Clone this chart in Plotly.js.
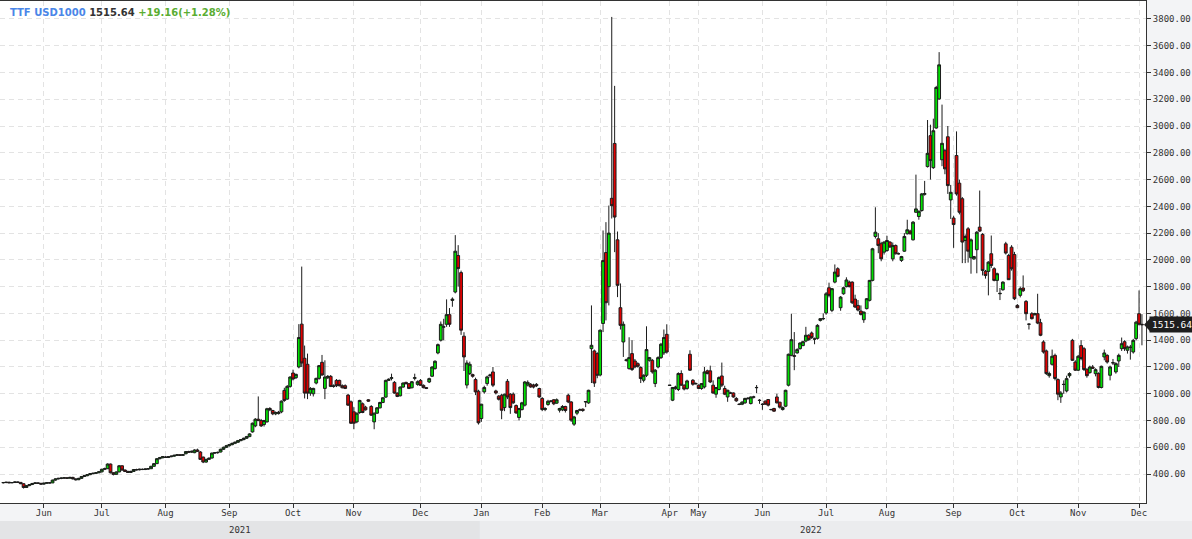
<!DOCTYPE html>
<html>
<head>
<meta charset="utf-8">
<script src="https://cdn.plot.ly/plotly-3.0.1.min.js"></script>
<style>
html,body{margin:0;padding:0;background:#f3f4f6;}
#chart{width:1192px;height:539px;}
</style>
</head>
<body>
<div id="chart"></div>
<script>
// Month labels along the x axis and the number of trading-day candles in each month
const monthLabels = ['', 'Jun','Jul','Aug','Sep','Oct','Nov','Dec','Jan','Feb','Mar','Apr','May','Jun','Jul','Aug','Sep','Oct','Nov','Dec'];
const monthCounts = [14, 20,22,22,22,21,23,21,21,20,24,10,22,22,21,23,22,21,21,2];
const yearLabels = ['2021', '2022'];

// Daily OHLC values (TTF USD1000), late May 2021 -> early Dec 2022
const open = [
// May 21
335,337,339,335,337,341,338,328,300,314,322,330,334,331,
// Jun 21
325,332,335,334,355,364,368,370,372,369,375,364,358,368,382,388,396,404,406,410,
// Jul 21
417,436,440,475,410,398,416,462,430,420,412,420,434,432,436,434,438,440,458,478,515,522,
// Aug 21
528,524,530,534,540,544,540,552,568,564,560,580,565,527,490,510,520,557,560,565,585,600,
// Sep 21
612,620,630,638,650,658,668,680,715,760,810,800,770,790,890,875,850,852,865,1025,960,1055,
// Oct 21
1155,1120,1200,1520,1265,1220,1005,1000,1080,1115,1235,1040,1120,1130,1055,1100,1100,1060,1060,990,940,
// Nov 21
865,790,860,925,900,955,905,790,855,895,935,975,1100,1115,1085,1005,985,1050,1085,1075,1045,1115,1070,
// Dec 21
1100,1063,1046,1088,1131,1188,1305,1400,1498,1519,1591,1697,1760,2033,1905,1430,1065,1151,1143,1106,1019,
// Jan 22
815,1014,1076,1136,1163,1021,982,989,897,1093,997,997,912,823,882,915,1065,1071,1065,1070,1039,
// Feb 22
965,882,920,945,955,930,877,880,905,989,939,773,855,880,885,938,932,1337,1320,1300,
// Mar 22
1140,1525,2055,1800,2460,2870,2150,1643,1387,1250,1188,1300,1245,1225,1196,1101,1138,1250,1250,1076,1200,1270,1305,1444,
// Apr 22
1062,952,1040,1032,1151,1064,1040,1295,1101,1074,
// May 22
1064,1039,1051,1171,1171,1064,997,1032,1133,1039,976,1006,1006,965,922,922,932,965,927,975,1045,952,
// Jun 22
922,945,957,882,890,976,937,882,907,1064,1287,1285,1305,1337,1360,1394,1437,1454,1408,1414,1548,1560,
// Jul 22
1603,1792,1623,1834,1934,1643,1747,1800,1834,1834,1707,1660,1618,1553,1636,1698,1847,2175,2158,2121,2058,
// Aug 22
2070,2133,2008,2108,2046,1996,2065,2195,2215,2150,2356,2324,2369,2490,2697,2928,2689,2985,3203,2748,2816,2920,2448,
// Sep 22
2313,2780,2573,2457,2145,2232,2016,2008,2076,2245,2190,1915,1914,2046,1934,1847,1747,1777,2120,2033,2095,2040,
// Oct 22
1660,1735,1790,1690,1519,1598,1590,1598,1531,1387,1320,1135,1220,1287,1106,976,1069,1021,1135,1399,1237,
// Nov 22
1176,1360,1337,1183,1158,1200,1150,1151,1047,1275,1287,1138,1230,1163,1245,1337,1389,1325,1345,1312,1412,
// Dec 22
1598,1519
];

const high = [
341,342,343,340,344,345,340,330,318,326,334,338,339,334,
334,338,340,358,368,372,375,378,376,380,380,368,372,385,392,400,408,410,414,420,
440,448,480,478,415,420,468,466,435,425,425,438,440,440,442,442,445,462,482,520,528,535,
535,534,538,545,548,550,548,572,574,575,585,590,572,530,515,525,560,565,568,590,605,618,
625,635,642,655,662,672,685,705,785,818,980,812,805,895,900,880,868,872,950,1045,1065,1130,
1180,1150,1520,1950,1360,1300,1050,1045,1120,1215,1290,1250,1140,1140,1070,1110,1105,1070,1070,1000,950,
900,860,955,935,910,960,915,860,900,940,975,1105,1115,1150,1095,1010,1055,1085,1090,1080,1095,1150,1100,
1110,1070,1050,1120,1205,1250,1375,1540,1560,1705,1640,1720,2185,2110,1920,1460,1250,1240,1150,1120,1030,
925,1060,1135,1150,1200,1030,990,1000,1000,1110,1005,1010,920,895,940,1095,1100,1080,1075,1080,1045,
975,900,955,952,960,965,895,915,910,1000,945,835,880,890,890,945,1030,1660,1330,1310,
1480,2220,2282,2406,3815,3300,2212,1824,1540,1262,1422,1400,1260,1235,1205,1145,1504,1275,1260,1185,1280,1380,1480,1519,
1066,1050,1060,1160,1175,1070,1105,1325,1110,1085,
1070,1080,1200,1180,1210,1100,1050,1130,1233,1060,1030,1015,1010,975,930,945,970,975,980,985,1065,960,
930,950,960,888,895,1000,940,905,1030,1300,1598,1461,1340,1385,1395,1500,1445,1465,1420,1520,1565,1600,
1760,1830,1790,1966,1945,1730,1800,1870,1845,1840,1740,1700,1660,1615,1715,1850,2090,2393,2200,2135,2140,
2180,2140,2130,2115,2055,2030,2200,2300,2225,2290,2637,2370,2500,2590,3045,3010,3055,3300,3552,3160,2830,3000,2560,
2330,2960,2600,2470,2190,2245,2160,2030,2215,2518,2200,1925,1990,2182,1945,1905,1790,1840,2135,2045,2110,2060,
1670,1800,1884,1700,1525,1610,1605,1747,1560,1400,1330,1165,1330,1300,1115,1020,1100,1135,1160,1410,1250,
1290,1400,1350,1190,1210,1215,1190,1160,1210,1330,1295,1210,1260,1235,1300,1420,1400,1360,1365,1410,1545,
1772,1595
];

const low = [
330,332,333,331,334,336,325,292,296,310,318,326,328,321,
320,328,330,333,350,360,362,365,366,366,360,352,355,365,378,384,392,398,400,406,
412,430,438,405,390,395,414,425,415,408,408,416,426,428,430,430,432,438,455,475,510,518,
520,520,526,530,535,536,535,548,560,558,556,566,505,482,485,505,516,550,552,562,580,595,
606,615,624,632,645,652,662,676,710,750,795,752,755,785,870,840,840,845,855,940,955,1045,
1100,1110,1190,1200,965,960,985,980,1070,1105,1135,960,1110,1050,1045,1050,1055,1040,1035,910,775,
735,780,850,855,875,940,835,735,850,890,930,970,1095,1100,1000,975,980,1045,1070,1035,1040,1100,1060,
1060,1040,1035,1080,1125,1180,1295,1390,1400,1500,1500,1650,1750,1800,1440,1170,1040,1140,1120,990,770,
790,1000,1060,1120,1050,995,950,810,870,960,850,925,850,800,875,905,1055,1045,1040,1050,970,
870,870,910,935,915,925,860,870,860,930,790,760,840,870,865,900,925,1080,1051,1116,
1130,1461,1548,1660,2309,2058,1722,1480,1275,1240,1180,1170,1190,1195,1080,1085,1125,1240,1150,1050,1190,1260,1290,1300,
1060,945,1030,1020,1060,1025,1030,1170,1060,1070,
1035,1030,1040,1145,1080,1000,970,1025,1050,990,940,998,970,940,915,915,925,955,920,965,1005,925,
880,918,905,875,865,928,890,875,900,1055,1280,1176,1300,1330,1355,1385,1395,1410,1370,1405,1540,1550,
1590,1720,1610,1825,1870,1620,1740,1795,1795,1670,1640,1615,1585,1530,1630,1690,1840,2160,2050,1990,2040,
2060,2090,1990,2040,2040,1985,2060,2190,2190,2145,2350,2300,2360,2480,2690,2600,2680,2980,3195,2700,2640,2493,2306,
2090,2480,2340,1976,1976,1980,1897,2000,1900,2210,1884,1860,1735,1940,1840,1760,1700,1770,2040,1850,1920,1700,
1640,1720,1760,1548,1480,1555,1585,1520,1430,1300,1140,1120,1210,1100,952,932,1000,1010,1120,1245,1170,
1170,1250,1170,1120,1150,1185,1130,1040,1040,1250,1225,1100,1215,1150,1200,1320,1320,1300,1255,1300,1400,
1510,1362
];

const close = [
337,339,335,337,341,338,328,300,314,322,330,334,331,325,
332,335,334,355,364,368,370,372,369,375,364,358,368,382,388,396,404,406,410,417,
436,440,475,410,398,416,462,430,420,412,420,434,432,436,434,438,440,458,478,515,522,530,
524,530,534,540,544,540,545,568,564,570,580,570,510,490,510,518,557,560,562,585,600,612,
620,630,638,650,658,668,680,700,780,810,800,760,800,888,880,850,860,862,945,950,1055,1125,
1110,1145,1420,1230,1005,1005,1040,1040,1115,1210,1140,1125,1130,1055,1058,1060,1060,1045,1040,915,780,
780,855,950,860,880,945,840,855,895,935,970,1100,1108,1120,1005,980,1050,1080,1075,1040,1090,1120,1090,
1063,1046,1040,1113,1200,1243,1367,1519,1500,1591,1519,1707,2065,1935,1475,1275,1230,1220,1131,1014,783,
922,1047,1126,1140,1064,1006,959,877,997,976,897,932,857,890,932,1088,1085,1051,1050,1060,976,
882,890,944,945,925,955,890,905,875,939,803,827,875,880,875,942,1026,1362,1080,1138,
1475,1995,1680,2200,2405,2320,1810,1511,1519,1252,1270,1181,1200,1205,1114,1138,1330,1270,1163,1176,1270,1370,1420,1312,
1064,1047,1050,1151,1064,1035,1096,1176,1071,1076,
1040,1076,1163,1151,1088,1006,1047,1121,1064,997,1026,1005,976,947,920,937,965,966,976,976,1047,950,
920,922,915,882,870,932,900,897,1026,1295,1404,1280,1330,1379,1389,1437,1404,1419,1410,1511,1561,1562,
1747,1735,1785,1909,1877,1722,1792,1850,1800,1680,1648,1625,1593,1610,1710,1847,2083,2207,2108,2008,2133,
2145,2096,2108,2046,2046,2025,2175,2225,2195,2282,2381,2363,2493,2495,2796,2742,2965,3288,3457,2871,2680,2555,2505,
2264,2493,2356,2133,2175,2065,2150,2025,2207,2215,1921,1883,1983,1958,1847,1897,1750,1834,2051,1852,1934,1710,
1643,1785,1770,1598,1520,1561,1598,1528,1437,1312,1151,1151,1280,1114,997,1006,1070,1113,1151,1250,1176,
1280,1263,1181,1135,1200,1190,1180,1047,1205,1305,1237,1200,1232,1225,1287,1374,1337,1350,1348,1399,1535,
1519,1515.64
];

const yTicks = [400,600,800,1000,1200,1400,1600,1800,2000,2200,2400,2600,2800,3000,3200,3400,3600,3800];

// ---------- build ----------
const x = open.map((_, i) => i);
const tickvals = [], ticktext = [];
let acc = 0;
monthCounts.forEach((n, k) => {
  if (monthLabels[k]) { tickvals.push(acc); ticktext.push(monthLabels[k]); }
  acc += n;
});
const janIndex = tickvals[ticktext.indexOf('Jan')];
const last = close[close.length - 1];

const W = 1192, H = 539;
const plotW = 1146, plotH = 502, mT = 1, mB = 36;
const xRange = [-1.14, 394.4];
const yRange = [184, 3934];
const mono = 'DejaVu Sans Mono, monospace';

const trace = {
  type: 'candlestick',
  x: x, open: open, high: high, low: low, close: close,
  increasing: {line: {color: '#1c1c1c', width: 1}, fillcolor: '#00e000'},
  decreasing: {line: {color: '#1c1c1c', width: 1}, fillcolor: '#e00000'},
  whiskerwidth: 0,
  hoverinfo: 'none'
};

const janPaper = (janIndex - 0.5 - xRange[0]) / (xRange[1] - xRange[0]);
const bandTop = -(521 - 503) / plotH, bandBot = -(539 - 503) / plotH;
const pxPerUnit = plotH / (yRange[1] - yRange[0]);
const arrowHalf = 6.5 / pxPerUnit;

const layout = {
  width: W, height: H,
  margin: {l: 0, r: W - plotW, t: mT, b: mB, pad: 0},
  paper_bgcolor: '#f3f4f6',
  plot_bgcolor: '#ffffff',
  showlegend: false,
  dragmode: false,
  hovermode: false,
  boxgap: 0.04,
  boxgroupgap: 0,
  title: {
    text: '<b><span style="color:#4a86e8">TTF USD1000</span> <span style="color:#333333">' + last.toFixed(2) +
          '</span> <span style="color:#5aad32">+19.16(+1.28%)</span></b>',
    font: {family: 'DejaVu Sans, sans-serif', size: 10},
    xref: 'container', yref: 'container',
    x: 10 / W, xanchor: 'left', y: 1 - 12 / H, yanchor: 'middle', pad: {t: 0, b: 0, l: 0, r: 0}
  },
  xaxis: {
    type: 'linear', range: xRange, fixedrange: true,
    rangeslider: {visible: false},
    tickmode: 'array', tickvals: tickvals, ticktext: ticktext,
    ticks: 'outside', ticklen: 4, tickcolor: '#333', tickwidth: 1,
    ticklabelstandoff: -3,
    tickfont: {family: mono, size: 9, color: '#333'},
    showgrid: true, gridcolor: '#e3e3e3', griddash: '5px,4px', gridwidth: 1,
    showline: true, linecolor: '#333', linewidth: 1, mirror: true,
    zeroline: false
  },
  yaxis: {
    side: 'right', range: yRange, fixedrange: true,
    tickmode: 'array', tickvals: yTicks, ticktext: yTicks.map(v => v.toFixed(2)),
    ticks: 'outside', ticklen: 4, tickcolor: '#333', tickwidth: 1,
    tickfont: {family: mono, size: 9, color: '#333'},
    showgrid: true, gridcolor: '#e3e3e3', griddash: '5px,4px', gridwidth: 1,
    showline: true, linecolor: '#333', linewidth: 1, mirror: true,
    zeroline: false
  },
  shapes: [
    {type: 'rect', xref: 'paper', yref: 'paper', x0: 0, x1: janPaper, y0: bandBot, y1: bandTop,
     fillcolor: '#e3e4e6', line: {width: 0}, layer: 'below'},
    {type: 'rect', xref: 'paper', yref: 'paper', x0: janPaper, x1: W / plotW, y0: bandBot, y1: bandTop,
     fillcolor: '#ebecee', line: {width: 0}, layer: 'below'},
    {type: 'path', xref: 'paper', yref: 'y',
     path: 'M ' + (1150 / plotW) + ' ' + (last + arrowHalf) + ' L ' + (1144 / plotW) + ' ' + last +
           ' L ' + (1150 / plotW) + ' ' + (last - arrowHalf) + ' Z',
     fillcolor: '#1e1e1e', line: {width: 0}}
  ],
  annotations: [
    {text: yearLabels[0], xref: 'paper', yref: 'paper', x: 240 / plotW, y: -(530 - 503) / plotH,
     xanchor: 'center', yanchor: 'middle',
     showarrow: false, font: {family: mono, size: 9, color: '#333'}},
    {text: yearLabels[1], xref: 'paper', yref: 'paper', x: 811 / plotW, y: -(530 - 503) / plotH,
     xanchor: 'center', yanchor: 'middle',
     showarrow: false, font: {family: mono, size: 9, color: '#333'}},
    {text: last.toFixed(2), xref: 'paper', yref: 'y', x: 1149 / plotW, y: last, xanchor: 'left', yanchor: 'middle',
     showarrow: false, bgcolor: '#1e1e1e', borderpad: 2,
     font: {family: mono, size: 9.5, color: '#ffffff'}}
  ]
};

Plotly.newPlot('chart', [trace], layout, {displayModeBar: false, staticPlot: true});
</script>
</body>
</html>
